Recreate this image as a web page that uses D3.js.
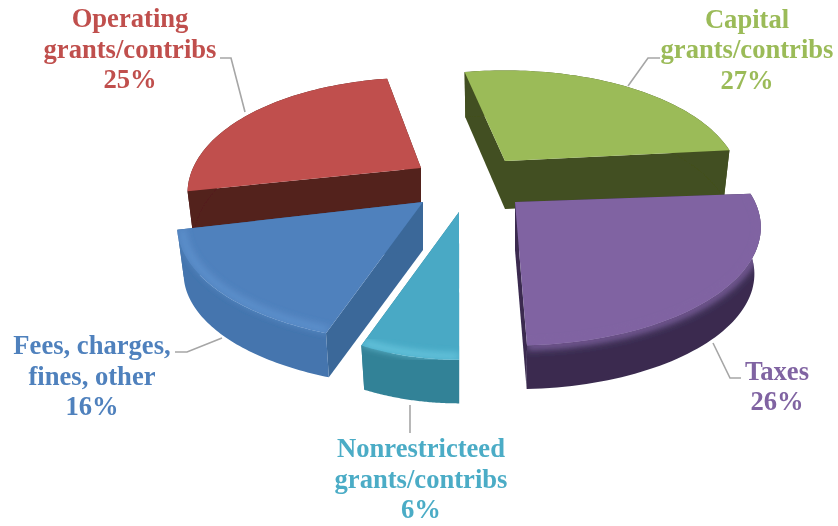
<!DOCTYPE html>
<html><head><meta charset="utf-8">
<script src="https://cdn.jsdelivr.net/npm/d3@7"></script>
<style>html,body{margin:0;background:#fff}svg{display:block}text{font-family:"Liberation Serif",serif;font-weight:bold;font-size:26.6px;text-anchor:middle}</style>
</head><body><svg id="c" width="838" height="526"></svg>
<script>
const categories = ["Capital grants/contribs","Taxes","Nonrestricteed grants/contribs","Fees, charges, fines, other","Operating grants/contribs"];
const sharesExact = [27.1,25.5,6.5,15.9,25.0];
const percentLabels = ["27%","26%","6%","16%","25%"];
const labelLines = [["Capital","grants/contribs"],["Taxes"],["Nonrestricteed","grants/contribs"],["Fees, charges,","fines, other"],["Operating","grants/contribs"]];

const style = [
 {top:"#9bbb59",text:"#9bbb59",wall:"#435020",radial:"#435020",hi:null},
 {top:"#8064a2",text:"#8064a2",wall:"#3a2c50",radial:"#3a2c50",hi:"#8064a2",soft:1},
 {top:"#48a9c5",text:"#4bacc6",wall:"#338297",radial:"#338297",hi:"#6fcde4"},
 {top:"#4f81bd",text:"#4f81bd",wall:"#4475ae",radial:"#3b6899",hi:"#6496d2"},
 {top:"#c0504d",text:"#c0504d",wall:"#53201d",radial:"#53201d",hi:null}];
// slice layout after explosion: apex, radius scales, small rotation (degrees)
const apex = [[505,161],[515,202],[459,212],[423,202],[421,168]];
const scaleX = [0.96,1,0.85,1,0.95];
const scaleY = [1,1,1.03,0.98,1];
const twist = [-2,-0.7,1.6,-2.3,0];
const labelPos = [[747,27.5],[777,379.5],[421,457],[92,354],[130,27]];
const leaders = [[[628,86],[648,58],[660,58]],[[713,343],[730,378],[741,378]],[[410,405],[410,433]],[[222,338],[187,352],[175,352]],[[245,112],[231,58],[220,58]]];

const rx=240, ry=117, k=0.226, depth=48, foot=0.975;
const svg=d3.select("#c");
const defs=svg.append("defs");
defs.append("filter").attr("id","b3").attr("x","-20%").attr("y","-20%").attr("width","140%").attr("height","140%").append("feGaussianBlur").attr("stdDeviation",3.5);
defs.append("filter").attr("id","soft").attr("x","-5%").attr("y","-5%").attr("width","110%").attr("height","110%").append("feGaussianBlur").attr("stdDeviation",0.5);
defs.append("filter").attr("id","softT").attr("x","-5%").attr("y","-5%").attr("width","110%").attr("height","110%").append("feGaussianBlur").attr("stdDeviation",0.35);

const arcs=d3.pie().sort(null).value(d=>d).startAngle(-11*Math.PI/180).endAngle(349*Math.PI/180)(sharesExact);
const line=d3.line();
function proj(a,i,th,r,low){
  const t=th+twist[i]*Math.PI/180;
  const c=Math.cos(t)*r, s=Math.sin(t)*r, p=1-k*c;
  const d=low?depth*(1-0.1*Math.max(c,0)):0;
  return [a[0]+rx*scaleX[i]*s*p, a[1]-ry*scaleY[i]*c*p+d];
}
function arcPts(a,i,d,r,low){
  const n=60;
  return d3.range(n+1).map(j=>proj(a,i,d.startAngle+(d.endAngle-d.startAngle)*j/n,r,low));
}
const root=svg.append("g").attr("filter","url(#soft)");
const order=[4,0,3,1,2];
order.forEach(i=>{
  const a=apex[i], d=arcs[i], st=style[i], g=root.append("g");
  const top=arcPts(a,i,d,1,false), bot=arcPts(a,i,d,foot,true);
  const aLow=[a[0],a[1]+depth];
  g.append("path").attr("d",line([a,top[0],bot[0],aLow])+"Z").attr("fill",st.radial);
  g.append("path").attr("d",line([a,top[top.length-1],bot[bot.length-1],aLow])+"Z").attr("fill",st.radial);
  g.append("path").attr("d",line(top.concat(bot.slice().reverse()))+"Z").attr("fill",st.wall);
  const topD=line([a].concat(top))+"Z";
  g.append("path").attr("d",topD).attr("fill",st.top);
  if(st.hi){
    const id="clip"+i;
    defs.append("clipPath").attr("id",id).append("path").attr("d",line(top.concat(bot.slice().reverse()))+"Z "+topD);
    g.append("g").attr("clip-path",`url(#${id})`).append("path")
      .attr("d",line(arcPts(a,i,d,st.soft?1.005:0.98,false))).attr("fill","none")
      .attr("stroke",st.hi).attr("stroke-width",st.soft?7:5).attr("filter","url(#b3)");
  }
});
const leader=svg.append("g");
leaders.forEach(l=>leader.append("path").attr("d",line(l)).attr("fill","none").attr("stroke","#a6a6a6").attr("stroke-width",1.6));
const tg=svg.append("g").attr("filter","url(#softT)");
categories.forEach((c,i)=>{
  const t=tg.append("text").attr("fill",style[i].text);
  const ls=labelLines[i].concat(percentLabels[i]);
  ls.forEach((s,j)=>t.append("tspan").attr("x",labelPos[i][0]).attr("y",labelPos[i][1]+j*30.7).text(s));
});
</script></body></html>
